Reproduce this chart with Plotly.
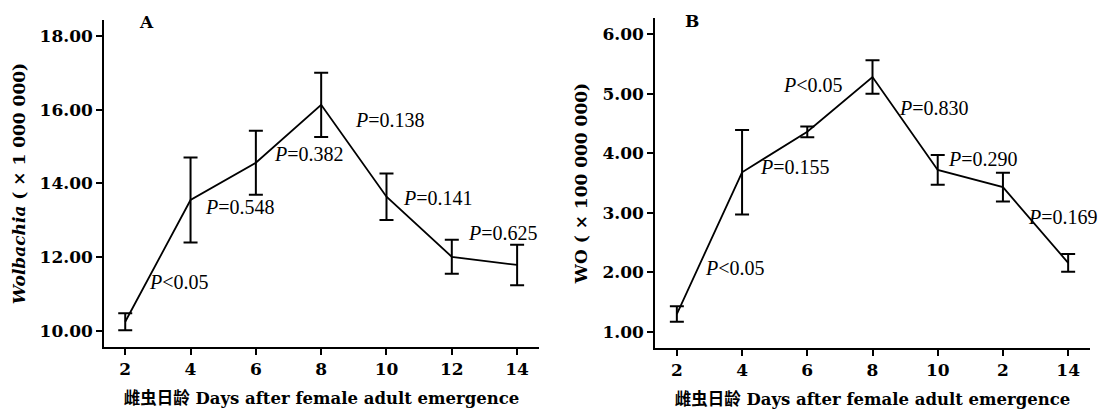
import plotly.graph_objects as go

days = [2, 4, 6, 8, 10, 12, 14]

# Panel A: Wolbachia (x 1 000 000)
wol_mean = [10.25, 13.55, 14.56, 16.13, 13.64, 12.01, 11.79]
wol_err = [0.23, 1.15, 0.87, 0.87, 0.63, 0.46, 0.55]

# Panel B: WO (x 100 000 000)
wo_mean = [1.30, 3.68, 4.36, 5.28, 3.72, 3.43, 2.16]
wo_err = [0.13, 0.71, 0.09, 0.28, 0.25, 0.24, 0.15]

ticks_a = ["2", "4", "6", "8", "10", "12", "14"]
ticks_b = ["2", "4", "6", "8", "10", "2", "14"]

# P-value labels (text, x, y)
p_a_text = ["<i>P</i>&lt;0.05", "<i>P</i>=0.548", "<i>P</i>=0.382", "<i>P</i>=0.138", "<i>P</i>=0.141", "<i>P</i>=0.625"]
p_a_x = [2.67, 4.39, 6.50, 8.97, 10.44, 12.43]
p_a_y = [11.33, 13.37, 14.80, 15.73, 13.61, 12.66]

p_b_text = ["<i>P</i>&lt;0.05", "<i>P</i>=0.155", "<i>P</i>&lt;0.05", "<i>P</i>=0.830", "<i>P</i>=0.290", "<i>P</i>=0.169"]
p_b_x = [2.80, 4.48, 5.19, 8.75, 10.25, 12.71]
p_b_y = [2.07, 3.77, 5.14, 4.76, 3.90, 2.93]

FONT = "DejaVu Serif, Noto Sans CJK SC, serif"
AFONT = "Liberation Serif, serif"

fig = go.Figure()
fig.add_trace(go.Scatter(
    x=days, y=wol_mean, mode="lines", xaxis="x", yaxis="y",
    line=dict(color="black", width=1.8),
    error_y=dict(type="data", array=wol_err, visible=True, color="black", thickness=2, width=7),
    showlegend=False))
fig.add_trace(go.Scatter(
    x=days, y=wo_mean, mode="lines", xaxis="x2", yaxis="y2",
    line=dict(color="black", width=1.8),
    error_y=dict(type="data", array=wo_err, visible=True, color="black", thickness=2, width=7),
    showlegend=False))

W, H = 1103, 409
def fx(px):
    return px / W
def fy(py):
    return (H - py) / H

axis_common = dict(showline=True, linecolor="black", linewidth=1.6, mirror=False,
                   ticks="outside", ticklen=6, tickwidth=1.5, tickcolor="black",
                   showgrid=False, zeroline=False, automargin=False,
                   tickfont=dict(family=FONT, size=17, color="black", weight=700))

xtitle = dict(text="<b>雌虫日龄 Days after female adult emergence</b>",
              font=dict(family=FONT, size=16.5, color="black"), standoff=14)

fig.update_layout(
    width=W, height=H, margin=dict(l=0, r=0, t=0, b=0),
    paper_bgcolor="white", plot_bgcolor="white",
    xaxis=dict(domain=[fx(104), fx(539)], range=[1.35, 14.67], anchor="y",
               tickvals=days, ticktext=ticks_a, title=xtitle, **axis_common),
    yaxis=dict(domain=[fy(347), fy(20)], range=[9.565, 18.43], anchor="x",
               tickvals=[10, 12, 14, 16, 18], tickformat=".2f",
               title=dict(text="<b><i>Wolbachia</i> ( × 1 000 000)</b>",
                          font=dict(family=FONT, size=17, color="black"), standoff=10),
               **axis_common),
    xaxis2=dict(domain=[fx(655), fx(1090)], range=[1.33, 14.67], anchor="y2",
                tickvals=days, ticktext=ticks_b, title=xtitle, **axis_common),
    yaxis2=dict(domain=[fy(348), fy(18)], range=[0.73, 6.27], anchor="x2",
                tickvals=[1, 2, 3, 4, 5, 6], tickformat=".2f",
                title=dict(text="<b>WO ( × 100 000 000)</b>",
                           font=dict(family=FONT, size=17, color="black"), standoff=10),
                **axis_common),
)

annos = []
for t, x, y in zip(p_a_text, p_a_x, p_a_y):
    annos.append(dict(text=t, x=x, y=y, xref="x", yref="y", xanchor="left", yanchor="middle",
                      showarrow=False, font=dict(family=AFONT, size=20, color="black")))
for t, x, y in zip(p_b_text, p_b_x, p_b_y):
    annos.append(dict(text=t, x=x, y=y, xref="x2", yref="y2", xanchor="left", yanchor="middle",
                      showarrow=False, font=dict(family=AFONT, size=20, color="black")))
annos.append(dict(text="<b>A</b>", x=fx(137), y=fy(22), xref="paper", yref="paper",
                  xanchor="left", yanchor="middle", showarrow=False,
                  font=dict(family=FONT, size=17, color="black")))
annos.append(dict(text="<b>B</b>", x=fx(683), y=fy(21), xref="paper", yref="paper",
                  xanchor="left", yanchor="middle", showarrow=False,
                  font=dict(family=FONT, size=17, color="black")))
fig.update_layout(annotations=annos)

fig.write_html("out.html", config={"displayModeBar": False},
               post_script="document.body.style.margin='0';document.body.style.overflow='hidden';")
